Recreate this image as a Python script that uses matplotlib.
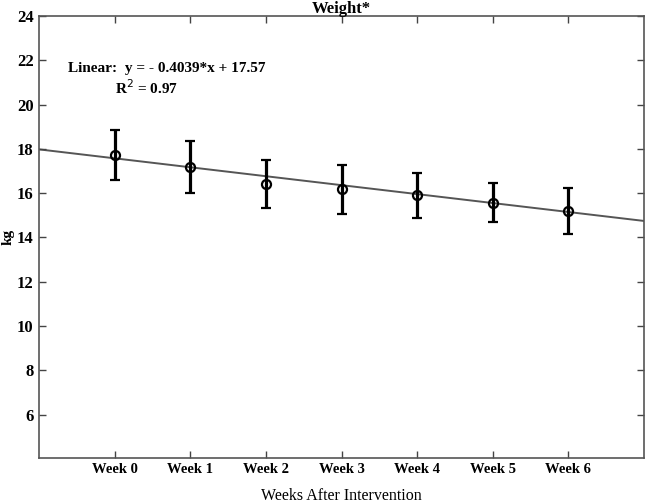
import matplotlib
matplotlib.use("Agg")
import matplotlib.pyplot as plt

weeks = [0, 1, 2, 3, 4, 5, 6]
week_labels = ["Week 0", "Week 1", "Week 2", "Week 3", "Week 4", "Week 5", "Week 6"]
means = [17.72, 17.18, 16.40, 16.17, 15.90, 15.56, 15.20]
errors = [1.15, 1.19, 1.09, 1.10, 1.03, 0.88, 1.05]
slope = -0.4039
intercept = 17.57
r2 = 0.97
yticks = [6, 8, 10, 12, 14, 16, 18, 20, 22, 24]

plt.rcParams['font.family'] = ['Liberation Serif', 'DejaVu Serif']

fig = plt.figure(figsize=(6.45, 5.04), dpi=100)
ax = fig.add_axes([0.0609, 0.0919, 0.9375, 0.8764])

xl = (-1, 7)
ax.plot(list(xl), [slope * xl[0] + intercept, slope * xl[1] + intercept],
        color='#555555', lw=1.4, zorder=1)
ax.errorbar(weeks, means, yerr=errors, fmt='o', color='black', ecolor='black',
            mfc='none', mec='black', ms=6.5, mew=1.6, elinewidth=2.3,
            capsize=3.5, capthick=2.3, zorder=3)

ax.set_xlim(*xl)
ax.set_ylim(4.05, 24)
ax.set_xticks(weeks)
ax.set_xticklabels(week_labels, fontsize=10.5, fontweight='bold')
ax.set_yticks(yticks)
ax.set_yticklabels([str(v) for v in yticks], fontsize=12, fontweight='bold')
ax.tick_params(direction='in', length=5, width=1, colors='#444444',
               top=True, right=True, labelcolor='black')
ax.tick_params(axis='y', pad=4)
ax.tick_params(axis='x', pad=4)
for s in ax.spines.values():
    s.set_color('#555555')
    s.set_linewidth(1.2)

ax.set_xlabel("Weeks After Intervention", fontsize=11.5, labelpad=8.5)
ax.set_ylabel("kg", fontsize=11, fontweight='bold', labelpad=2)
ax.set_title("Weight*", fontsize=12, fontweight='bold', pad=2.5)

ax.text(-0.62, 21.65, "Linear:  y = - 0.4039*x + 17.57", fontsize=11,
        fontweight='bold', va='center', ha='left')
ax.text(0.0, 20.75, "R$^{2}$ = %.2f" % r2, fontsize=11, fontweight='bold',
        va='center', ha='left')

fig.savefig("out.png", dpi=100)
